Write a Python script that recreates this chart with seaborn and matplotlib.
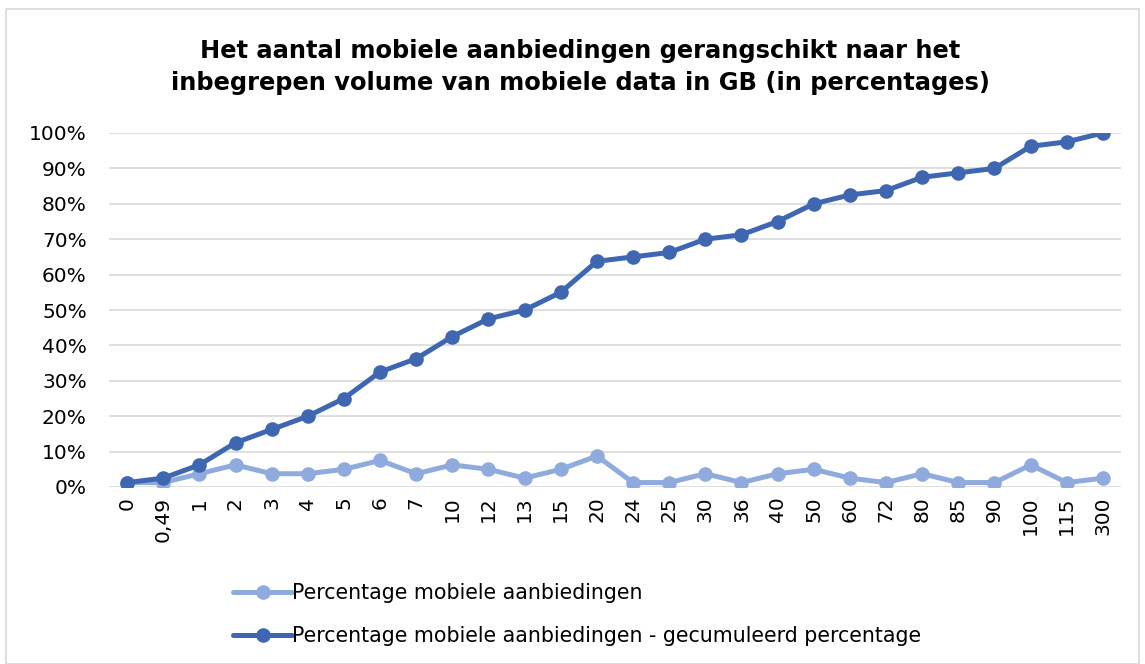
import matplotlib
matplotlib.use("Agg")
import matplotlib.pyplot as plt
import seaborn as sns
import pandas as pd
from matplotlib.patches import Rectangle
from matplotlib.lines import Line2D
from matplotlib.ticker import FuncFormatter

categories = ["0", "0,49", "1", "2", "3", "4", "5", "6", "7", "10", "12", "13", "15", "20",
              "24", "25", "30", "36", "40", "50", "60", "72", "80", "85", "90", "100", "115", "300"]
pct = [1.25, 1.25, 3.75, 6.25, 3.75, 3.75, 5, 7.5, 3.75, 6.25, 5, 2.5, 5, 8.75,
       1.25, 1.25, 3.75, 1.25, 3.75, 5, 2.5, 1.25, 3.75, 1.25, 1.25, 6.25, 1.25, 2.5]
cum = [1.25, 2.5, 6.25, 12.5, 16.25, 20, 25, 32.5, 36.25, 42.5, 47.5, 50, 55, 63.75,
       65, 66.25, 70, 71.25, 75, 80, 82.5, 83.75, 87.5, 88.75, 90, 96.25, 97.5, 100]
series_names = ["Percentage mobiele aanbiedingen",
                "Percentage mobiele aanbiedingen - gecumuleerd percentage"]
title = "Het aantal mobiele aanbiedingen gerangschikt naar het\ninbegrepen volume van mobiele data in GB (in percentages)"

sns.set_theme(style="white")
plt.rcParams["font.family"] = ["DejaVu Sans"]
plt.rcParams["text.color"] = "black"

colors = ["#8FAADC", "#3F66B0"]

df = pd.DataFrame({
    "cat": categories * 2,
    "val": pct + cum,
    "series": [series_names[0]] * len(categories) + [series_names[1]] * len(categories),
})

fig = plt.figure(figsize=(11.45, 6.64), dpi=100)
ax = fig.add_axes([109 / 1145, 1 - 487 / 664, (1121 - 109) / 1145, (487 - 133) / 664])

sns.lineplot(data=df, x="cat", y="val", hue="series", palette=colors, sort=False,
             marker="o", markersize=10.5, linewidth=3.6, markeredgewidth=0,
             ax=ax, legend=False)

ax.set_xlim(-0.5, len(categories) - 0.5)
ax.set_ylim(0, 100)
ax.set_yticks(range(0, 101, 10))
ax.yaxis.set_major_formatter(FuncFormatter(lambda v, p: f"{int(v)}%"))
ax.grid(axis="y", color="#D9D9D9", linewidth=1.2)
ax.set_axisbelow(True)
for s in ax.spines.values():
    s.set_visible(False)
ax.set_xlabel("")
ax.set_ylabel("")
ax.tick_params(axis="both", length=0, labelsize=14.5, colors="black")
ax.tick_params(axis="x", pad=7)
ax.tick_params(axis="y", pad=16)
ax.set_xticks(range(len(categories)))
ax.set_xticklabels(categories, rotation=90)

fig.text(0.507, 1 - 67 / 664, title, ha="center", va="center", fontsize=17.4,
         fontweight="bold", linespacing=1.45, color="black")

handles = [Line2D([], [], color=c, linewidth=3.6, marker="o", markersize=10.5, markeredgewidth=0)
           for c in colors]
fig.legend(handles, series_names, loc="upper left", bbox_to_anchor=(225 / 1145, 1 - 575 / 664),
           frameon=False, fontsize=14.8, handlelength=2.85, handletextpad=0.0, labelspacing=1.1,
           borderaxespad=0, labelcolor="black")

fig.patches.append(Rectangle((6 / 1145, 0), 1 - 12 / 1145, 1 - 9 / 664, transform=fig.transFigure,
                             fill=False, edgecolor="#D9D9D9", linewidth=1.2))

fig.savefig("out.png", dpi=100, facecolor="white")
